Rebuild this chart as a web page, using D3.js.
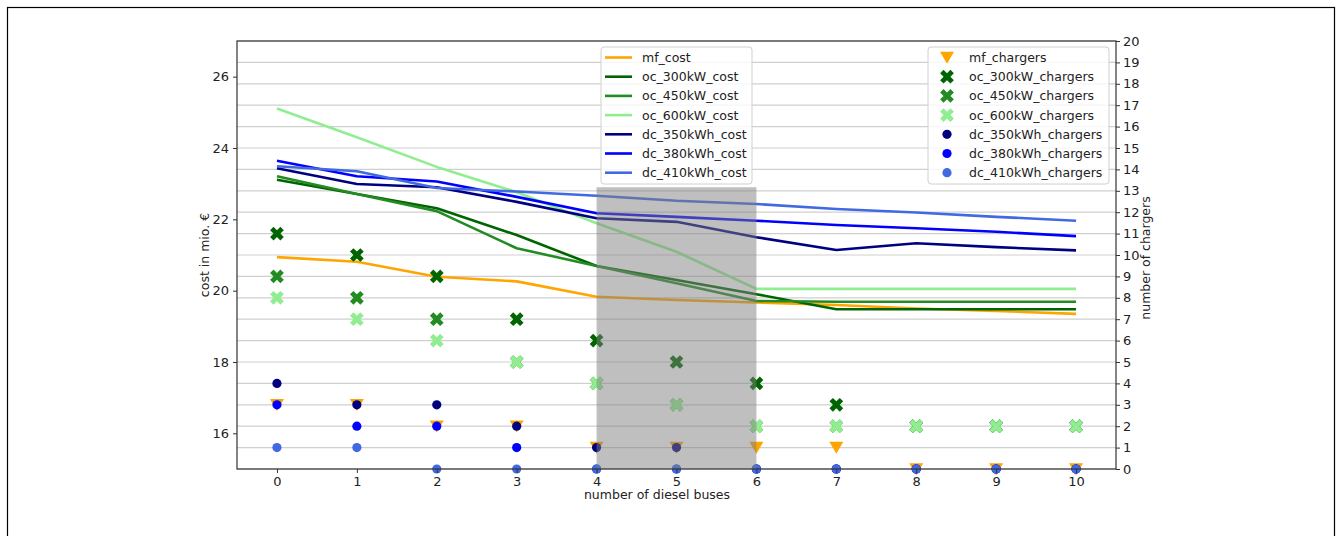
<!DOCTYPE html>
<html><head><meta charset="utf-8">
<script src="https://cdn.jsdelivr.net/npm/d3@7"></script>
<style>body{margin:0;background:#fff;} text{font-family:"DejaVu Sans",sans-serif;fill:#222;}</style>
</head><body><svg id="c" width="1341" height="536"></svg>
<script>
const buses = [0,1,2,3,4,5,6,7,8,9,10];
const mfCost    = [20.94,20.81,20.39,20.26,19.83,19.74,19.67,19.60,19.50,19.43,19.35];
const oc300Cost = [23.11,22.71,22.31,21.56,20.69,20.30,19.90,19.48,19.48,19.48,19.48];
const oc450Cost = [23.21,22.71,22.23,21.19,20.69,20.21,19.71,19.69,19.69,19.69,19.69];
const oc600Cost = [25.11,24.30,23.47,22.76,21.89,21.09,20.05,20.05,20.05,20.05,20.05];
const dc350Cost = [23.43,22.99,22.90,22.49,22.03,21.93,21.50,21.14,21.33,21.22,21.13];
const dc380Cost = [23.64,23.21,23.06,22.63,22.17,22.07,21.96,21.84,21.75,21.65,21.53];
const dc410Cost = [23.49,23.35,22.88,22.78,22.66,22.52,22.43,22.29,22.19,22.07,21.96];

const mfChargers    = [3,3,2,2,1,1,1,1,0,0,0];
const oc300Chargers = [11,10,9,7,6,5,4,3,2,2,2];
const oc450Chargers = [9,8,7,5,4,3,2,2,2,2,2];
const oc600Chargers = [8,7,6,5,4,3,2,2,2,2,2];
const dc350Chargers = [4,3,3,2,1,1,0,0,0,0,0];
const dc380Chargers = [3,2,2,1,0,0,0,0,0,0,0];
const dc410Chargers = [1,1,0,0,0,0,0,0,0,0,0];

const leftTicks = [16,18,20,22,24,26];
const rightTicks = d3.range(0,21);
const spanRange = [4,6];
const spanTop = 22.9;

const costSeries = [
  {name:"mf_cost", vals:mfCost, color:"#FFA500"},
  {name:"oc_300kW_cost", vals:oc300Cost, color:"#006400"},
  {name:"oc_450kW_cost", vals:oc450Cost, color:"#228B22"},
  {name:"oc_600kW_cost", vals:oc600Cost, color:"#90EE90"},
  {name:"dc_350kWh_cost", vals:dc350Cost, color:"#000080"},
  {name:"dc_380kWh_cost", vals:dc380Cost, color:"#0000FF"},
  {name:"dc_410kWh_cost", vals:dc410Cost, color:"#4169E1"}
];
const chargerSeries = [
  {name:"mf_chargers", vals:mfChargers, color:"#FFA500", m:"v"},
  {name:"oc_300kW_chargers", vals:oc300Chargers, color:"#006400", m:"X"},
  {name:"oc_450kW_chargers", vals:oc450Chargers, color:"#228B22", m:"X"},
  {name:"oc_600kW_chargers", vals:oc600Chargers, color:"#90EE90", m:"X"},
  {name:"dc_350kWh_chargers", vals:dc350Chargers, color:"#000080", m:"o"},
  {name:"dc_380kWh_chargers", vals:dc380Chargers, color:"#0000FF", m:"o"},
  {name:"dc_410kWh_chargers", vals:dc410Chargers, color:"#4169E1", m:"o"}
];

const svg = d3.select("#c");
const L=237, R=1116, T=41, B=469;
const x = d3.scaleLinear().domain([-0.5,10.5]).range([L,R]);
const yL = d3.scaleLinear().domain([15,27]).range([B,T]);
const yR = d3.scaleLinear().domain([0,20]).range([B,T]);

// outer border
svg.append("rect").attr("x",7.5).attr("y",7.5).attr("width",1327).attr("height",540)
  .attr("fill","none").attr("stroke","#000").attr("stroke-width",1.2);

// grid (right axis)
svg.append("g").selectAll("line").data(rightTicks).join("line")
  .attr("x1",L).attr("x2",R).attr("y1",d=>yR(d)).attr("y2",d=>yR(d))
  .attr("stroke","#cfcfcf").attr("stroke-width",1.2);

// lines
const line = d3.line().x((d,i)=>x(buses[i])).y(d=>yL(d));
svg.append("g").selectAll("path").data(costSeries).join("path")
  .attr("d",d=>line(d.vals)).attr("fill","none").attr("stroke",d=>d.color)
  .attr("stroke-width",2.6).attr("stroke-linejoin","round");

// markers
function marker(sel, m, color){
  if(m==="o"){
    sel.append("circle").attr("r",4.6).attr("fill",color);
  } else if(m==="X"){
    sel.append("path").attr("d",d3.symbol(d3.symbolCross,118)()).attr("transform","rotate(45)").attr("fill",color);
  } else {
    sel.append("path").attr("d","M-7,-5.8L7,-5.8L0,6.2Z").attr("fill",color);
  }
}
const mg = svg.append("g");
chargerSeries.forEach(s=>{
  s.vals.forEach((v,i)=>{
    const g = mg.append("g").attr("transform",`translate(${x(buses[i])},${yR(v)})`);
    marker(g, s.m, s.color);
  });
});

// shaded span
svg.append("rect").attr("x",x(spanRange[0])).attr("width",x(spanRange[1])-x(spanRange[0]))
  .attr("y",yL(spanTop)).attr("height",B-yL(spanTop)).attr("fill","#808080").attr("fill-opacity",0.5);

// axes
const ax = svg.append("g").attr("transform",`translate(0,${B})`)
  .call(d3.axisBottom(x).tickValues(buses).tickFormat(d3.format("d")).tickSize(4).tickPadding(4));
const axL = svg.append("g").attr("transform",`translate(${L},0)`)
  .call(d3.axisLeft(yL).tickValues(leftTicks).tickSize(4).tickPadding(4));
const axR = svg.append("g").attr("transform",`translate(${R},0)`)
  .call(d3.axisRight(yR).tickValues(rightTicks).tickSize(4).tickPadding(3));
[ax,axL,axR].forEach(a=>{
  a.select(".domain").remove();
  a.selectAll("text").style("font-size","13px").attr("fill","#222");
  a.selectAll("line").attr("stroke","#333");
});
svg.append("rect").attr("x",L).attr("y",T).attr("width",R-L).attr("height",B-T)
  .attr("fill","none").attr("stroke","#333").attr("stroke-width",1.2);

// axis labels
svg.append("text").attr("x",657).attr("y",499).attr("text-anchor","middle")
  .style("font-size","12.5px").text("number of diesel buses");
svg.append("text").attr("transform",`translate(209,255) rotate(-90)`).attr("text-anchor","middle")
  .style("font-size","12.5px").text("cost in mio. €");
svg.append("text").attr("transform",`translate(1150,258) rotate(-90)`).attr("text-anchor","middle")
  .style("font-size","12.5px").text("number of chargers");

// legends
function legend(x0, y0, w, items, kind){
  const g = svg.append("g");
  g.append("rect").attr("x",x0).attr("y",y0).attr("width",w).attr("height",137).attr("rx",3)
    .attr("fill","#fff").attr("fill-opacity",0.8).attr("stroke","#d0d0d0");
  items.forEach((s,i)=>{
    const cy = y0+10.5+i*19.2;
    if(kind==="line"){
      g.append("line").attr("x1",x0+4).attr("x2",x0+31).attr("y1",cy).attr("y2",cy)
        .attr("stroke",s.color).attr("stroke-width",2.6);
      g.append("text").attr("x",x0+41).attr("y",cy+4.5).style("font-size","12.5px").text(s.name);
    } else {
      const mgi = g.append("g").attr("transform",`translate(${x0+19},${cy})`);
      marker(mgi, s.m, s.color);
      g.append("text").attr("x",x0+41).attr("y",cy+4.5).style("font-size","12.5px").text(s.name);
    }
  });
}
legend(601, 47, 151, costSeries, "line");
legend(928, 47, 181, chargerSeries, "marker");
</script></body></html>
